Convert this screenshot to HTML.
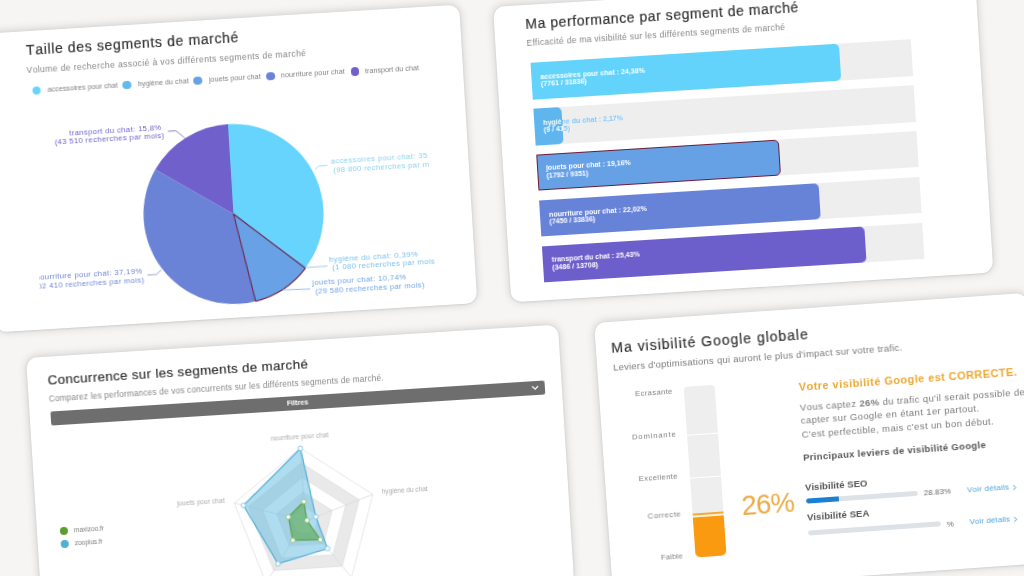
<!DOCTYPE html><html><head><meta charset="utf-8"><title>Dashboard</title><style>
html,body{margin:0;padding:0}
body{width:1024px;height:576px;overflow:hidden;background:#f6f5f3;position:relative;font-family:"Liberation Sans",sans-serif;font-kerning:none}
.card{position:absolute;background:#fff;border-radius:11px;transform-origin:0 0;box-shadow:0 -0.5px 9px 0.5px rgba(0,0,0,.16),0 0.5px 2px rgba(0,0,0,.12)}
.in{position:absolute;left:0;top:0;right:0;bottom:0;filter:blur(0.4px)}
.t{position:absolute;white-space:pre;display:block}
.a{position:absolute}
svg{position:absolute;left:0;top:0;overflow:visible}
</style></head><body>
<div class="card" style="left:-22px;top:33.7px;width:481.5px;height:298.7px;transform:rotate(-3.5deg)">
<div class="in">
<span class="t" style="left:47.02px;top:12.26px;font-size:14px;line-height:14px;color:#333;letter-spacing:0.642px;-webkit-text-stroke:0.2px #333;">Taille des segments de marché</span>
<span class="t" style="left:46.31px;top:34.93px;font-size:8.6px;line-height:8.6px;color:#858585;letter-spacing:0.376px;">Volume de recherche associé à vos différents segments de marché</span>
<div class="a" style="left:50.60px;top:55.61px;width:8.5px;height:8.5px;border-radius:50%;background:#66d4fc"></div>
<span class="t" style="left:65.93px;top:56.27px;font-size:7.2px;line-height:7.2px;color:#808080;letter-spacing:0.023px;">accessoires pour chat</span>
<div class="a" style="left:141.36px;top:55.75px;width:8.5px;height:8.5px;border-radius:50%;background:#62b8f0"></div>
<span class="t" style="left:156.59px;top:56.41px;font-size:7.2px;line-height:7.2px;color:#808080;letter-spacing:0.011px;">hygiène du chat</span>
<div class="a" style="left:212.49px;top:55.79px;width:8.5px;height:8.5px;border-radius:50%;background:#68a1e6"></div>
<span class="t" style="left:227.72px;top:56.45px;font-size:7.2px;line-height:7.2px;color:#808080;letter-spacing:0.051px;">jouets pour chat</span>
<div class="a" style="left:285.12px;top:55.83px;width:8.5px;height:8.5px;border-radius:50%;background:#6b83d6"></div>
<span class="t" style="left:299.85px;top:56.48px;font-size:7.2px;line-height:7.2px;color:#808080;letter-spacing:0.061px;">nourriture pour chat</span>
<div class="a" style="left:369.77px;top:56.00px;width:8.5px;height:8.5px;border-radius:50%;background:#7060cb"></div>
<span class="t" style="left:384.00px;top:56.65px;font-size:7.2px;line-height:7.2px;color:#808080;letter-spacing:-0.002px;">transport du chat</span>
<svg width="480" height="298" viewBox="0 0 480 298"><path d="M244.03,195.26 L244.03,105.26 A90,90 0 0 1 313.81,252.11 Z" fill="#66d4fc"/><path d="M244.03,195.26 L313.81,252.11 A90,90 0 0 1 312.40,253.80 Z" fill="#62b8f0"/><path d="M244.03,195.26 L260.84,283.68 A90,90 0 0 1 168.66,146.09 Z" fill="#6b83d6"/><path d="M244.03,195.26 L168.66,146.09 A90,90 0 0 1 244.03,105.26 Z" fill="#7060cb"/><path d="M244.03,195.26 L312.40,253.80 A90,90 0 0 1 260.84,283.68 Z" fill="#68a1e6" stroke="#6b2248" stroke-width="1.1" stroke-linejoin="round"/><path d="M183.7,108.7 L191.7,108.7 L199.8,116.2" fill="none" stroke="#8a84c4" stroke-width="1"/><path d="M328.1,155.5 L332.3,152.7 L340.8,152.4" fill="none" stroke="#9fe0f7" stroke-width="1"/><path d="M312.7,253.2 L334.7,253.0" fill="none" stroke="#9fcdea" stroke-width="1"/><path d="M288.8,274.0 L316.1,274.9" fill="none" stroke="#9cbfe8" stroke-width="1"/><path d="M154.5,250.9 L163.2,251.0 L168.5,246.8" fill="none" stroke="#9aa8dc" stroke-width="1"/></svg>
<div class="a" style="left:46.4px;top:80px;width:395.8px;height:215px;overflow:hidden">
<span class="t" style="left:38.60px;top:20.97px;font-size:7.7px;line-height:7.7px;color:#6f63c9;letter-spacing:0.365px;">transport du chat: 15,8%</span>
<span class="t" style="left:23.50px;top:28.66px;font-size:7.7px;line-height:7.7px;color:#6f63c9;letter-spacing:0.345px;">(43 510 recherches par mois)</span>
<span class="t" style="left:297.87px;top:65.38px;font-size:7.7px;line-height:7.7px;color:#88d2f0;letter-spacing:0.380px;">accessoires pour chat: 35,88%</span>
<span class="t" style="left:299.87px;top:73.62px;font-size:7.7px;line-height:7.7px;color:#88d2f0;letter-spacing:0.345px;">(98 800 recherches par mois)</span>
<span class="t" style="left:290.11px;top:162.69px;font-size:7.7px;line-height:7.7px;color:#79bfe8;letter-spacing:0.415px;">hygiène du chat: 0,39%</span>
<span class="t" style="left:292.98px;top:171.48px;font-size:7.7px;line-height:7.7px;color:#79bfe8;letter-spacing:0.358px;">(1 080 recherches par mois)</span>
<span class="t" style="left:271.92px;top:185.02px;font-size:7.7px;line-height:7.7px;color:#6ea3e4;letter-spacing:0.396px;">jouets pour chat: 10,74%</span>
<span class="t" style="left:274.59px;top:193.80px;font-size:7.7px;line-height:7.7px;color:#6ea3e4;letter-spacing:0.331px;">(29 580 recherches par mois)</span>
<span class="t" style="left:-3.88px;top:163.38px;font-size:7.7px;line-height:7.7px;color:#6f86d6;letter-spacing:0.348px;">nourriture pour chat: 37,19%</span>
<span class="t" style="left:-9.93px;top:172.48px;font-size:7.7px;line-height:7.7px;color:#6f86d6;letter-spacing:0.344px;">(102 410 recherches par mois)</span>
</div>
</div></div>
<div class="card" style="left:492.9px;top:6.5px;width:483px;height:295.5px;transform:rotate(-3.55deg)">
<div class="in">
<span class="t" style="left:31.26px;top:12.38px;font-size:14px;line-height:14px;color:#333;letter-spacing:0.561px;-webkit-text-stroke:0.2px #333;">Ma performance par segment de marché</span>
<span class="t" style="left:31.20px;top:34.03px;font-size:8.6px;line-height:8.6px;color:#858585;letter-spacing:0.268px;">Efficacité de ma visibilité sur les différents segments de marché</span>
<div class="a" style="left:34.1px;top:58.20px;width:380.7px;height:36.5px;background:#eeeeee"></div>
<div class="a" style="left:34.1px;top:58.20px;width:309.38px;height:36.5px;background:#63d3fb;border-radius:0 5px 5px 0;overflow:hidden;"><span class="t" style="left:9.00px;top:10.73px;font-size:7.05px;line-height:7.05px;font-weight:700;color:#fff">accessoires pour chat : 24,38%</span><span class="t" style="left:9.00px;top:18.23px;font-size:7.05px;line-height:7.05px;font-weight:700;color:#fff">(7761 / 31836)</span></div>
<div class="a" style="left:34.1px;top:104.08px;width:380.7px;height:36.5px;background:#eeeeee"></div>
<div class="a" style="left:34.1px;top:104.08px;width:200px;height:36.5px;text-shadow:0.6px 0.4px 0 #fff,-0.5px -0.3px 0 #dff0fb"><span class="t" style="left:9.00px;top:10.73px;font-size:7.05px;line-height:7.05px;font-weight:700;color:#7fc3f0">hygiène du chat : 2,17%</span><span class="t" style="left:9.00px;top:18.23px;font-size:7.05px;line-height:7.05px;font-weight:700;color:#7fc3f0">(9 / 415)</span></div>
<div class="a" style="left:34.1px;top:104.08px;width:27.54px;height:36.5px;background:#5fb5ee;border-radius:0 5px 5px 0;overflow:hidden;"><span class="t" style="left:9.00px;top:10.73px;font-size:7.05px;line-height:7.05px;font-weight:700;color:#fff">hygiène du chat : 2,17%</span><span class="t" style="left:9.00px;top:18.23px;font-size:7.05px;line-height:7.05px;font-weight:700;color:#fff">(9 / 415)</span></div>
<div class="a" style="left:34.1px;top:149.95px;width:380.7px;height:36.5px;background:#eeeeee"></div>
<div class="a" style="left:34.1px;top:149.95px;width:243.14px;height:36.5px;background:#66a1e6;border-radius:0 5px 5px 0;overflow:hidden;box-sizing:border-box;border:1.5px solid #6e1a38;"><span class="t" style="left:7.80px;top:9.53px;font-size:7.05px;line-height:7.05px;font-weight:700;color:#fff">jouets pour chat : 19,16%</span><span class="t" style="left:7.80px;top:17.03px;font-size:7.05px;line-height:7.05px;font-weight:700;color:#fff">(1792 / 9351)</span></div>
<div class="a" style="left:34.1px;top:195.82px;width:380.7px;height:36.5px;background:#eeeeee"></div>
<div class="a" style="left:34.1px;top:195.82px;width:279.43px;height:36.5px;background:#6783d8;border-radius:0 5px 5px 0;overflow:hidden;"><span class="t" style="left:9.00px;top:10.73px;font-size:7.05px;line-height:7.05px;font-weight:700;color:#fff">nourriture pour chat : 22,02%</span><span class="t" style="left:9.00px;top:18.23px;font-size:7.05px;line-height:7.05px;font-weight:700;color:#fff">(7450 / 33836)</span></div>
<div class="a" style="left:34.1px;top:241.70px;width:380.7px;height:36.5px;background:#eeeeee"></div>
<div class="a" style="left:34.1px;top:241.70px;width:322.71px;height:36.5px;background:#6d5fcb;border-radius:0 5px 5px 0;overflow:hidden;"><span class="t" style="left:9.00px;top:10.73px;font-size:7.05px;line-height:7.05px;font-weight:700;color:#fff">transport du chat : 25,43%</span><span class="t" style="left:9.00px;top:18.23px;font-size:7.05px;line-height:7.05px;font-weight:700;color:#fff">(3486 / 13708)</span></div>
</div></div>
<div class="card" style="left:26px;top:358.2px;width:533px;height:260px;transform:rotate(-3.6deg)">
<div class="in">
<span class="t" style="left:20.34px;top:17.38px;font-size:13.3px;line-height:13.3px;color:#333;letter-spacing:0.368px;-webkit-text-stroke:0.2px #333;">Concurrence sur les segments de marché</span>
<span class="t" style="left:20.13px;top:39.41px;font-size:8.2px;line-height:8.2px;color:#858585;letter-spacing:0.218px;">Comparez les performances de vos concurrents sur les différents segments de marché.</span>
<div class="a" style="left:20.79px;top:54.91px;width:494.97px;height:13.6px;background:#6e6e6e;border-radius:2px"></div>
<span class="t" style="left:257.48px;top:58.22px;font-size:7.2px;line-height:7.2px;color:#fff;letter-spacing:0.000px;font-weight:700;">Filtres</span>
<svg width="533" height="260"><path d="M503.66,60.51 L506.26,63.11 L508.86,60.51" fill="none" stroke="#fff" stroke-width="1.2" stroke-linecap="round" stroke-linejoin="round"/></svg>
<div class="a" style="left:23.09px;top:170.74px;width:7.8px;height:7.8px;border-radius:50%;background:#5a9e2e"></div>
<span class="t" style="left:36.97px;top:172.15px;font-size:6.6px;line-height:6.6px;color:#808080;letter-spacing:-0.038px;">maxizoo.fr</span>
<div class="a" style="left:22.85px;top:184.05px;width:7.8px;height:7.8px;border-radius:50%;background:#4fb0d0"></div>
<span class="t" style="left:36.93px;top:185.46px;font-size:6.6px;line-height:6.6px;color:#808080;letter-spacing:-0.057px;">zooplus.fr</span>
<svg width="533" height="260"><polygon points="268.20,107.40 337.63,157.84 311.11,239.45 225.29,239.45 198.77,157.84" fill="#fff" stroke="#dcdcdc" stroke-width="0.7"/><polygon points="268.20,122.00 323.74,162.35 302.53,227.64 233.88,227.64 212.66,162.35" fill="#e9e9e9" stroke="#dcdcdc" stroke-width="0.7"/><polygon points="268.20,136.60 309.86,166.86 293.95,215.83 242.46,215.83 226.55,166.86" fill="#fff" stroke="#dcdcdc" stroke-width="0.7"/><polygon points="268.20,151.20 295.97,171.37 285.37,204.02 251.04,204.02 240.43,171.37" fill="#e9e9e9" stroke="#dcdcdc" stroke-width="0.7"/><polygon points="268.20,165.80 282.09,175.88 276.78,192.21 259.62,192.21 254.32,175.88" fill="#fff" stroke="#dcdcdc" stroke-width="0.7"/><line x1="268.20" y1="180.40" x2="268.20" y2="107.40" stroke="#d8d8d8" stroke-width="0.7"/><line x1="268.20" y1="180.40" x2="337.63" y2="157.84" stroke="#d8d8d8" stroke-width="0.7"/><line x1="268.20" y1="180.40" x2="311.11" y2="239.45" stroke="#d8d8d8" stroke-width="0.7"/><line x1="268.20" y1="180.40" x2="225.29" y2="239.45" stroke="#d8d8d8" stroke-width="0.7"/><line x1="268.20" y1="180.40" x2="198.77" y2="157.84" stroke="#d8d8d8" stroke-width="0.7"/><polygon points="268.20,107.40 279.31,176.79 289.01,209.04 238.60,221.15 207.80,160.77" fill="rgba(95,185,222,0.5)" stroke="#5cb3da" stroke-width="1.3" stroke-linejoin="round"/><polygon points="268.20,160.69 270.28,179.72 282.36,199.89 254.90,198.70 251.89,175.10" fill="rgba(92,168,80,0.62)" stroke="#5ea456" stroke-width="1.2" stroke-linejoin="round"/><circle cx="268.20" cy="107.40" r="2.3" fill="#fff" stroke="#7cc6e4" stroke-width="0.9"/><circle cx="279.31" cy="176.79" r="2.3" fill="#fff" stroke="#7cc6e4" stroke-width="0.9"/><circle cx="289.01" cy="209.04" r="2.3" fill="#fff" stroke="#7cc6e4" stroke-width="0.9"/><circle cx="238.60" cy="221.15" r="2.3" fill="#fff" stroke="#7cc6e4" stroke-width="0.9"/><circle cx="207.80" cy="160.77" r="2.3" fill="#fff" stroke="#7cc6e4" stroke-width="0.9"/><circle cx="268.20" cy="160.69" r="2.3" fill="#fff" stroke="#8cc27a" stroke-width="0.9"/><circle cx="270.28" cy="179.72" r="2.3" fill="#fff" stroke="#8cc27a" stroke-width="0.9"/><circle cx="282.36" cy="199.89" r="2.3" fill="#fff" stroke="#8cc27a" stroke-width="0.9"/><circle cx="254.90" cy="198.70" r="2.3" fill="#fff" stroke="#8cc27a" stroke-width="0.9"/><circle cx="251.89" cy="175.10" r="2.3" fill="#fff" stroke="#8cc27a" stroke-width="0.9"/></svg>
<span class="t" style="left:239.15px;top:93.04px;font-size:6.6px;line-height:6.6px;color:#adadad;letter-spacing:0.021px;">nourriture pour chat</span>
<span class="t" style="left:346.76px;top:152.70px;font-size:6.6px;line-height:6.6px;color:#adadad;letter-spacing:-0.043px;">hygiène du chat</span>
<span class="t" style="left:141.47px;top:152.40px;font-size:6.6px;line-height:6.6px;color:#adadad;letter-spacing:0.069px;">jouets pour chat</span>
</div></div>
<div class="card" style="left:594px;top:322.7px;width:434px;height:270.8px;transform:rotate(-4.0deg)">
<div class="in">
<span class="t" style="left:15.62px;top:18.51px;font-size:14px;line-height:14px;color:#333;letter-spacing:0.977px;-webkit-text-stroke:0.2px #333;">Ma visibilité Google globale</span>
<span class="t" style="left:15.93px;top:40.79px;font-size:9.5px;line-height:9.5px;color:#7a7a7a;letter-spacing:0.231px;">Leviers d'optimisations qui auront le plus d'impact sur votre trafic.</span>
<div class="a" style="left:85.20px;top:70.31px;width:31px;height:170.5px;background:#eeeeee;border-radius:4px 4px 5px 5px;overflow:hidden"><div class="a" style="left:0;top:47.6px;width:31px;height:1.6px;background:#fff"></div><div class="a" style="left:0;top:90.3px;width:31px;height:1.6px;background:#fff"></div><div class="a" style="left:0;top:127.0px;width:31px;height:1.3px;background:#f5ab35"></div><div class="a" style="left:0;top:128.3px;width:31px;height:2.1px;background:#fdf1dc"></div><div class="a" style="left:0;top:130.4px;width:31px;height:40.1px;background:#fa9a10"></div></div>
<span class="t" style="left:36.05px;top:69.98px;font-size:7.7px;line-height:7.7px;color:#808080;letter-spacing:0.341px;">Ecrasante</span>
<span class="t" style="left:29.93px;top:113.06px;font-size:7.7px;line-height:7.7px;color:#808080;letter-spacing:0.820px;">Dominante</span>
<span class="t" style="left:33.83px;top:154.83px;font-size:7.7px;line-height:7.7px;color:#808080;letter-spacing:0.364px;">Excellente</span>
<span class="t" style="left:40.10px;top:192.66px;font-size:7.7px;line-height:7.7px;color:#808080;letter-spacing:0.511px;">Correcte</span>
<span class="t" style="left:50.51px;top:235.19px;font-size:7.7px;line-height:7.7px;color:#808080;letter-spacing:0.166px;">Faible</span>
<span class="t" style="left:134.56px;top:178.57px;font-size:27.3px;line-height:27.3px;color:#ecaa42;letter-spacing:-0.670px;">26%</span>
<span class="t" style="left:199.84px;top:73.13px;font-size:11px;line-height:11px;color:#eaa831;letter-spacing:0.433px;font-weight:700;">Votre visibilité Google est CORRECTE.</span>
<span class="t" style="left:199.59px;top:93.73px;font-size:9.5px;line-height:9.5px;color:#7a7a7a;letter-spacing:0.39px">Vous captez <b>26%</b> du trafic qu'il serait possible de</span>
<span class="t" style="left:199.59px;top:107.28px;font-size:9.5px;line-height:9.5px;color:#7a7a7a;letter-spacing:0.39px">capter sur Google en étant 1er partout.</span>
<span class="t" style="left:199.59px;top:120.83px;font-size:9.5px;line-height:9.5px;color:#7a7a7a;letter-spacing:0.39px">C'est perfectible, mais c'est un bon début.</span>
<span class="t" style="left:199.18px;top:143.92px;font-size:9.5px;line-height:9.5px;color:#555;letter-spacing:0.314px;font-weight:700;">Principaux leviers de visibilité Google</span>
<span class="t" style="left:198.97px;top:174.10px;font-size:9.6px;line-height:9.6px;color:#555;letter-spacing:0.014px;font-weight:700;">Visibilité SEO</span>
<span class="t" style="left:198.92px;top:203.57px;font-size:9.6px;line-height:9.6px;color:#555;letter-spacing:0.055px;font-weight:700;">Visibilité SEA</span>
<div class="a" style="left:199.48px;top:189.78px;width:112.02px;height:4.8px;border-radius:2.4px;background:#dde2e7;overflow:hidden"><div style="width:28.83%;height:100%;background:#1b80cf;border-radius:2.4px 0 0 2.4px"></div></div>
<div class="a" style="left:199.14px;top:221.84px;width:133.36px;height:4.8px;border-radius:2.4px;background:#dde2e7;overflow:hidden"><div style="width:0.00%;height:100%;background:#1b80cf;border-radius:2.4px 0 0 2.4px"></div></div>
<span class="t" style="left:317.02px;top:188.81px;font-size:8px;line-height:8px;color:#6a6a6a;letter-spacing:0.033px;">28.83%</span>
<span class="t" style="left:337.86px;top:222.05px;font-size:8px;line-height:8px;color:#6a6a6a;letter-spacing:0.000px;">%</span>
<span class="t" style="left:360.47px;top:189.36px;font-size:8.1px;line-height:8.1px;color:#4fa3da;letter-spacing:0.176px;">Voir détails</span>
<svg width="440" height="270"><path d="M406.87,191.11 l2.2,2.4 l-2.2,2.4" fill="none" stroke="#4a9fd8" stroke-width="1"/></svg>
<span class="t" style="left:360.65px;top:221.15px;font-size:8.1px;line-height:8.1px;color:#4fa3da;letter-spacing:0.048px;">Voir détails</span>
<svg width="440" height="270"><path d="M405.65,222.90 l2.2,2.4 l-2.2,2.4" fill="none" stroke="#4a9fd8" stroke-width="1"/></svg>
</div></div>
</body></html>
